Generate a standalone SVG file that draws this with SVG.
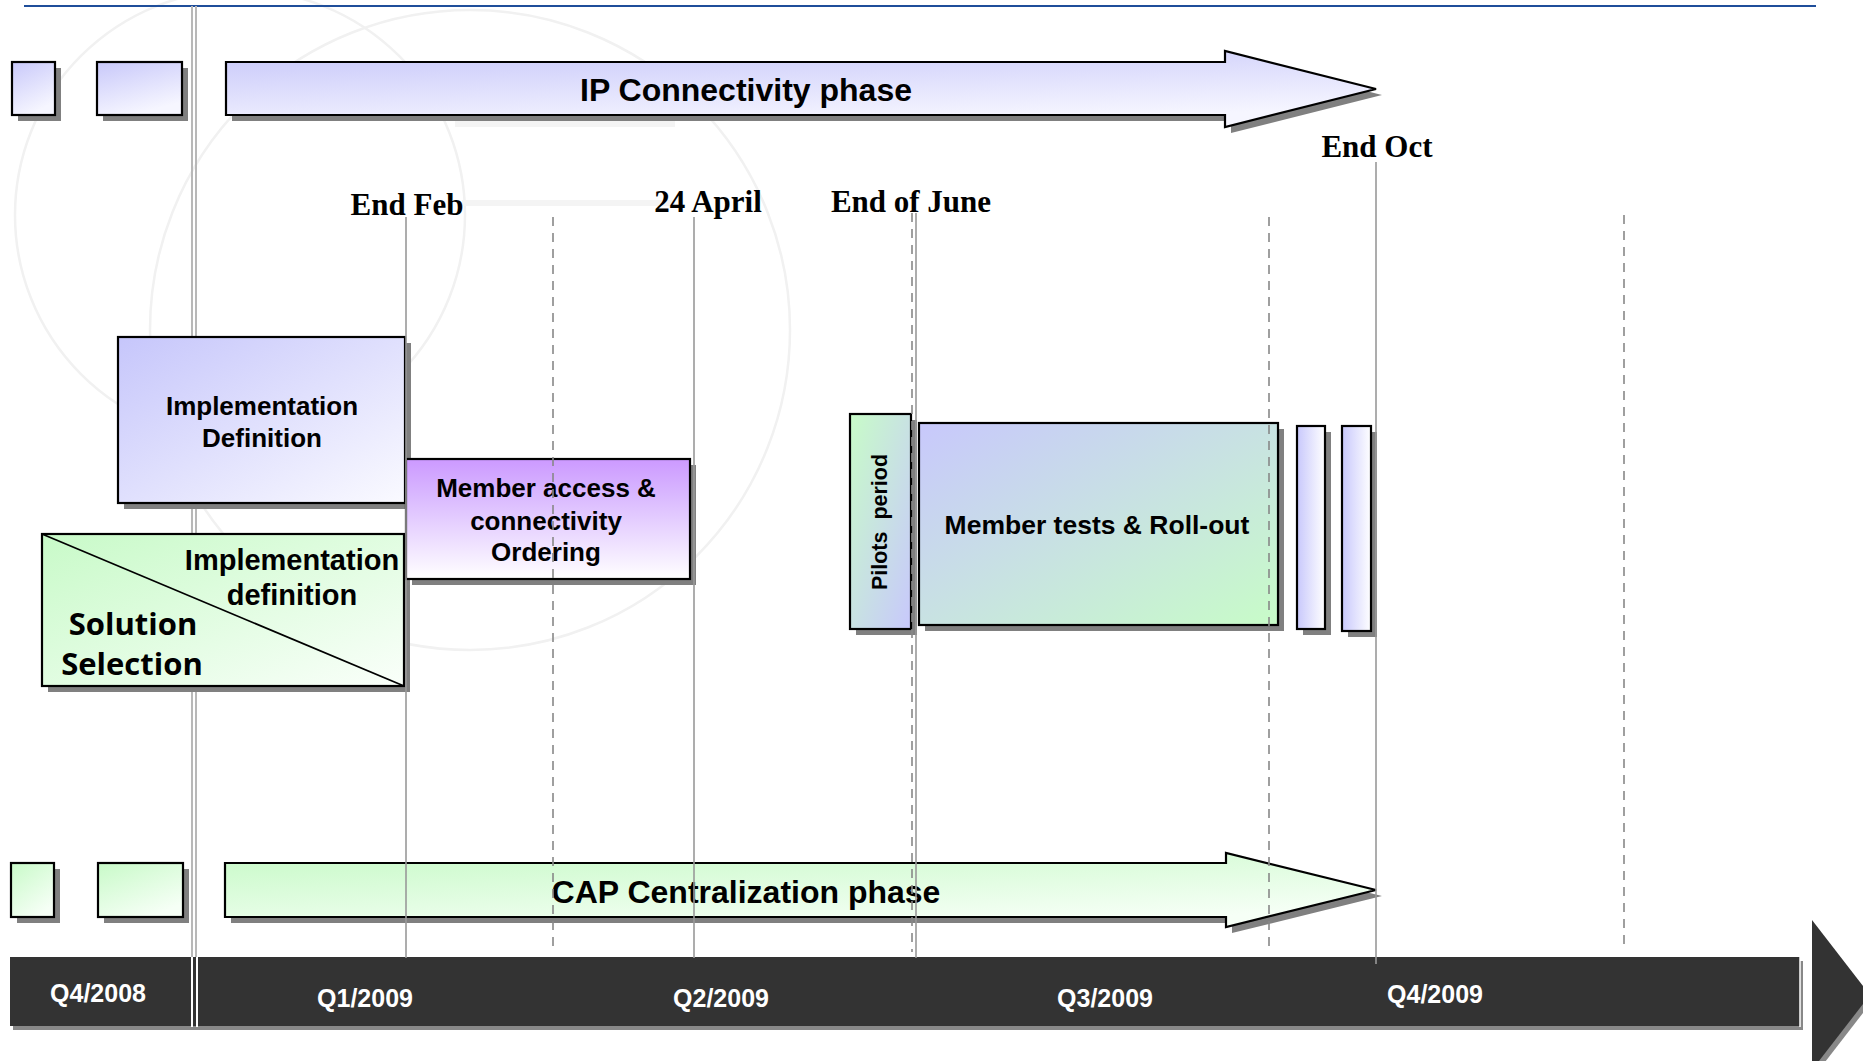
<svg xmlns="http://www.w3.org/2000/svg" width="1863" height="1061" viewBox="0 0 1863 1061">
<style>
.box{stroke:#000;stroke-width:2.2}
.sh{fill:#808080}
.t{font-family:"Liberation Sans",Arial,sans-serif;font-weight:bold;fill:#000;text-anchor:middle}
.ms{font-family:"Liberation Serif","Times New Roman",serif;font-weight:bold;font-size:31px;fill:#000;text-anchor:middle}
.q{font-family:"Liberation Sans",Arial,sans-serif;font-weight:bold;font-size:25px;fill:#fff;text-anchor:middle}
.sol{font-family:"Open Sans","Noto Sans",sans-serif;font-weight:bold;font-size:31px;fill:#000;text-anchor:middle}
.solid{stroke:#999;stroke-width:1.6;fill:none}
.dash{stroke:#888;stroke-width:1.6;fill:none;stroke-dasharray:9 7}
.wm{fill:none;stroke:#f1f1f1;stroke-width:2.5}
</style>
<defs>
<linearGradient id="gBlue" x1="0" y1="0" x2="0.4" y2="1"><stop offset="0" stop-color="#c8c8fa"/><stop offset="1" stop-color="#f6f6ff"/></linearGradient>
<linearGradient id="gImpl" x1="0" y1="0" x2="1" y2="1"><stop offset="0" stop-color="#c6c6fb"/><stop offset="1" stop-color="#fafaff"/></linearGradient>
<linearGradient id="gGreen" x1="0" y1="0" x2="0.6" y2="1"><stop offset="0" stop-color="#c8fac8"/><stop offset="1" stop-color="#f6fff6"/></linearGradient>
<linearGradient id="gGreenD" x1="0" y1="0" x2="1" y2="1"><stop offset="0" stop-color="#c8fac8"/><stop offset="1" stop-color="#fafffa"/></linearGradient>
<linearGradient id="gPurple" x1="0" y1="0" x2="0" y2="1"><stop offset="0" stop-color="#cc99ff"/><stop offset="0.3" stop-color="#d9b8ff"/><stop offset="1" stop-color="#ffffff"/></linearGradient>
<linearGradient id="gMix" x1="0" y1="0" x2="1" y2="1"><stop offset="0" stop-color="#c8c8fc"/><stop offset="1" stop-color="#c8fcc8"/></linearGradient>
<linearGradient id="gPilot" x1="0" y1="0" x2="1" y2="1"><stop offset="0" stop-color="#c8fcc8"/><stop offset="1" stop-color="#c8c8fc"/></linearGradient>
<linearGradient id="gThin" x1="0" y1="0" x2="1" y2="0"><stop offset="0" stop-color="#c8c8fc"/><stop offset="1" stop-color="#ffffff"/></linearGradient>
</defs>

<g id="watermark">
<circle class="wm" cx="240" cy="215" r="225"/>
<circle class="wm" cx="470" cy="330" r="320"/>
<rect x="455" y="121" width="220" height="6" fill="#f4f4f4"/>
<rect x="462" y="200" width="213" height="6" fill="#f4f4f4"/>
</g>

<line x1="24" y1="6" x2="1816" y2="6" stroke="#1f4e9a" stroke-width="2.2"/>
<g id="divider">
<line x1="192" y1="6" x2="192" y2="957" stroke="#b8b8b8" stroke-width="2"/>
<line x1="196" y1="6" x2="196" y2="957" stroke="#b8b8b8" stroke-width="2"/>
</g>

<g id="ip-small-1"><rect class="sh" x="18" y="68" width="43" height="53"/><rect class="box" x="12" y="62" width="43" height="53" fill="url(#gBlue)"/></g>
<g id="ip-small-2"><rect class="sh" x="103" y="68" width="85" height="53"/><rect class="box" x="97" y="62" width="85" height="53" fill="url(#gBlue)"/></g>
<g id="ip-phase">
<polygon class="sh" points="232,68 1231,68 1231,57 1382,95 1231,133 1231,121 232,121"/>
<polygon class="box" points="226,62 1225,62 1225,51 1376,89 1225,127 1225,115 226,115" fill="url(#gBlue)"/>
<text class="t" x="746" y="101" font-size="32">IP Connectivity phase</text>
</g>

<g id="cap-small-1"><rect class="sh" x="17" y="869" width="43" height="54"/><rect class="box" x="11" y="863" width="43" height="54" fill="url(#gGreen)"/></g>
<g id="cap-small-2"><rect class="sh" x="104" y="869" width="85" height="54"/><rect class="box" x="98" y="863" width="85" height="54" fill="url(#gGreen)"/></g>
<g id="cap-phase">
<polygon class="sh" points="231,869 1232,869 1232,859 1382,896 1232,933 1232,923 231,923"/>
<polygon class="box" points="225,863 1226,863 1226,853 1376,890 1226,927 1226,917 225,917" fill="url(#gGreen)"/>
<text class="t" x="746" y="903" font-size="32">CAP Centralization phase</text>
</g>

<g id="impl-def">
<rect class="sh" x="124" y="343" width="287" height="166"/>
<rect class="box" x="118" y="337" width="287" height="166" fill="url(#gImpl)"/>
<text class="t" x="262" y="415" font-size="26">Implementation</text>
<text class="t" x="262" y="447" font-size="26">Definition</text>
</g>

<g id="solution-selection">
<rect class="sh" x="48" y="540" width="362" height="152"/>
<rect class="box" x="42" y="534" width="362" height="152" fill="url(#gGreenD)"/>
<line x1="42" y1="534" x2="404" y2="686" stroke="#000" stroke-width="1.8"/>
<text class="t" x="292" y="570" font-size="29">Implementation</text>
<text class="t" x="292" y="605" font-size="29">definition</text>
<text class="sol" x="133" y="635">Solution</text>
<text class="sol" x="132" y="675">Selection</text>
</g>

<g id="member-access">
<rect class="sh" x="412" y="465" width="284" height="120"/>
<rect class="box" x="406" y="459" width="284" height="120" fill="url(#gPurple)"/>
<text class="t" x="546" y="497" font-size="26">Member access &amp;</text>
<text class="t" x="546" y="530" font-size="26">connectivity</text>
<text class="t" x="546" y="561" font-size="26">Ordering</text>
</g>

<g id="pilots">
<rect class="sh" x="856" y="420" width="61" height="215"/>
<rect class="box" x="850" y="414" width="61" height="215" fill="url(#gPilot)"/>
<text class="t" font-size="21.5" transform="translate(887,522) rotate(-90)" x="0" y="0">Pilots&#160; period</text>
</g>

<g id="member-tests">
<rect class="sh" x="925" y="429" width="359" height="202"/>
<rect class="box" x="919" y="423" width="359" height="202" fill="url(#gMix)"/>
<text class="t" x="1097" y="534" font-size="26.5">Member tests &amp; Roll-out</text>
</g>

<g id="extra-1"><rect class="sh" x="1303" y="432" width="28" height="203"/><rect class="box" x="1297" y="426" width="28" height="203" fill="url(#gThin)"/></g>
<g id="extra-2"><rect class="sh" x="1348" y="432" width="29" height="205"/><rect class="box" x="1342" y="426" width="29" height="205" fill="url(#gThin)"/></g>

<g id="timeline">
<rect x="13" y="961" width="1790" height="69" fill="#888"/>
<polygon points="1815,925 1873,1000 1815,1075" fill="#888"/>
<rect x="10" y="957" width="1790" height="69" fill="#333"/>
<polygon points="1812,920 1870,995 1812,1070" fill="#333"/>
<line x1="192" y1="957" x2="192" y2="1027" stroke="#fff" stroke-width="2"/>
<line x1="197" y1="957" x2="197" y2="1027" stroke="#fff" stroke-width="2"/>
<line x1="1800" y1="957" x2="1800" y2="1027" stroke="#fff" stroke-width="1.5"/>
<text class="q" x="98" y="1002">Q4/2008</text>
<text class="q" x="365" y="1007">Q1/2009</text>
<text class="q" x="721" y="1007">Q2/2009</text>
<text class="q" x="1105" y="1007">Q3/2009</text>
<text class="q" x="1435" y="1003">Q4/2009</text>
</g>

<g id="gridlines">
<line class="solid" x1="406" y1="217" x2="406" y2="958"/>
<line class="solid" x1="694" y1="217" x2="694" y2="958"/>
<line class="solid" x1="916" y1="213" x2="916" y2="958"/>
<line class="solid" x1="1376" y1="162" x2="1376" y2="964"/>
<line class="dash" x1="553" y1="217" x2="553" y2="952"/>
<line class="dash" x1="912" y1="213" x2="912" y2="952"/>
<line class="dash" x1="1269" y1="217" x2="1269" y2="953"/>
<line class="dash" x1="1624" y1="215" x2="1624" y2="949"/>
</g>

<g id="milestones">
<text class="ms" x="407" y="215">End Feb</text>
<text class="ms" x="708" y="212">24 April</text>
<text class="ms" x="911" y="212">End of June</text>
<text class="ms" x="1377" y="157">End Oct</text>
</g>
</svg>
